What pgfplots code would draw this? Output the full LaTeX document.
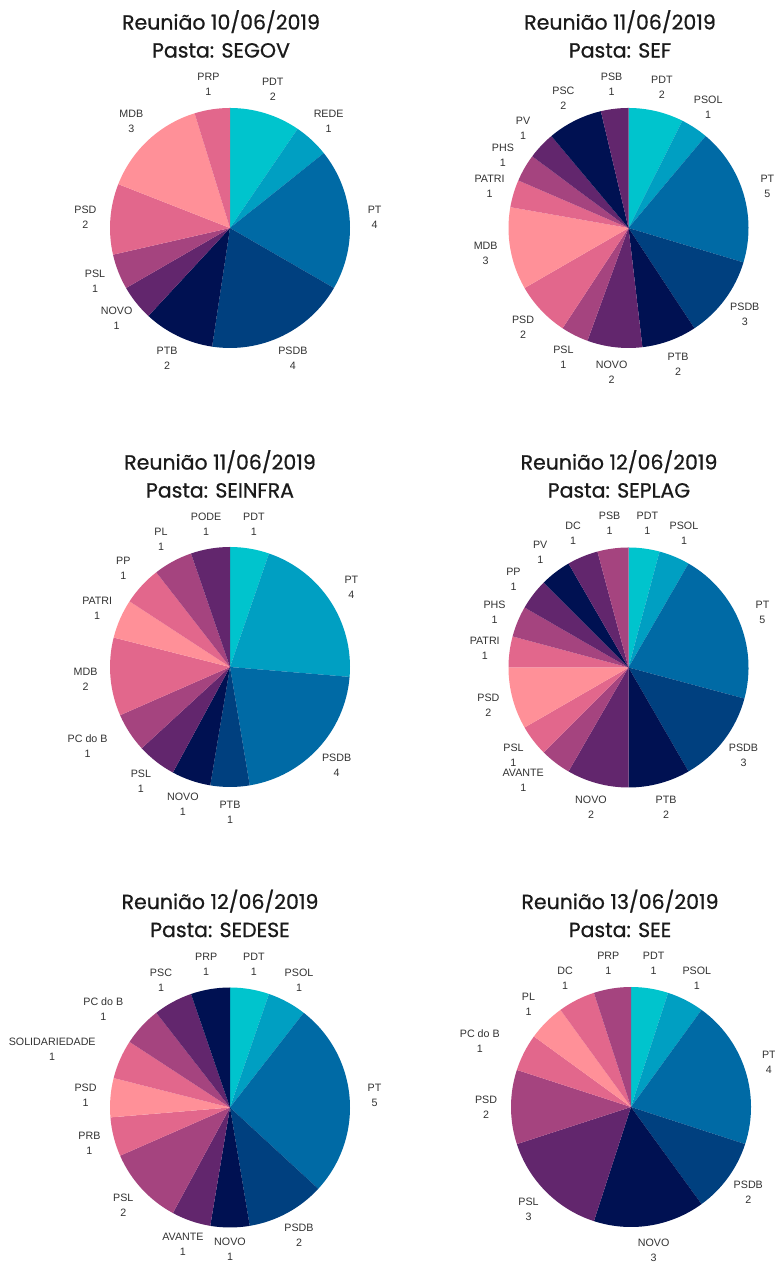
\documentclass[border=0pt]{standalone}
\usepackage{pgfplots}
\pgfplotsset{compat=1.18}
\usepackage{pgfplotstable}
\usepackage{fontspec}
\setmainfont{Liberation Sans}
\newfontfamily\titlefont{Poppins}[FakeBold=0.7]

\definecolor{c1}{HTML}{00C4CD}
\definecolor{c2}{HTML}{009FC2}
\definecolor{c3}{HTML}{006AA5}
\definecolor{c4}{HTML}{00407F}
\definecolor{c5}{HTML}{001152}
\definecolor{c6}{HTML}{62266D}
\definecolor{c7}{HTML}{A5447F}
\definecolor{c8}{HTML}{E2678C}
\definecolor{c9}{HTML}{FF9098}
\definecolor{lblgray}{HTML}{333333}
\definecolor{titlegray}{HTML}{1A1A1A}

\pgfplotstableread[col sep=comma]{
party,value,col,dx,dy
PDT,2,c1,0,0
REDE,1,c2,0,0
PT,4,c3,0,0
PSDB,4,c4,0,0
PTB,2,c5,0,0
NOVO,1,c6,0,0
PSL,1,c7,0,0
PSD,2,c8,0,0
MDB,3,c9,0,0
PRP,1,c8,0,0
}\segov

\pgfplotstableread[col sep=comma]{
party,value,col,dx,dy
PDT,2,c1,0,0
PSOL,1,c2,0,0
PT,5,c3,0,0
PSDB,3,c4,0,0
PTB,2,c5,0,0
NOVO,2,c6,0,0
PSL,1,c7,0,0
PSD,2,c8,0,0
MDB,3,c9,0,0
PATRI,1,c8,0,0
PHS,1,c7,0,0
PV,1,c6,0,0
PSC,2,c5,0,0
PSB,1,c6,0,0
}\sef

\pgfplotstableread[col sep=comma]{
party,value,col,dx,dy
PDT,1,c1,0,0
PT,4,c2,0,0
PSDB,4,c3,0,0
PTB,1,c4,0,0
NOVO,1,c5,0,0
PSL,1,c6,0,0
PC do B,1,c7,-21,0
MDB,2,c8,0,0
PATRI,1,c9,0,0
PP,1,c8,0,0
PL,1,c7,0,0
PODE,1,c6,0,0
}\seinfra

\pgfplotstableread[col sep=comma]{
party,value,col,dx,dy
PDT,1,c1,0,0
PSOL,1,c2,0,0
PT,5,c3,0,0
PSDB,3,c4,0,0
PTB,2,c5,0,0
NOVO,2,c6,0,0
AVANTE,1,c7,-17,2
PSL,1,c8,0,0
PSD,2,c9,0,0
PATRI,1,c8,0,0
PHS,1,c7,0,0
PP,1,c6,0,0
PV,1,c5,0,0
DC,1,c6,0,0
PSB,1,c7,0,0
}\seplag

\pgfplotstableread[col sep=comma]{
party,value,col,dx,dy
PDT,1,c1,0,0
PSOL,1,c2,0,0
PT,5,c3,0,0
PSDB,2,c4,0,0
NOVO,1,c5,0,3
AVANTE,1,c6,0,0
PSL,2,c7,0,0
PRB,1,c8,0,0
PSD,1,c9,0,0
SOLIDARIEDADE,1,c8,-45,0
PC do B,1,c7,-20,0
PSC,1,c6,0,0
PRP,1,c5,0,0
}\sedese

\pgfplotstableread[col sep=comma]{
party,value,col,dx,dy
PDT,1,c1,0,0
PSOL,1,c2,0,0
PT,4,c3,0,0
PSDB,2,c4,0,0
NOVO,3,c5,0,0
PSL,3,c6,0,0
PSD,2,c7,0,0
PC do B,1,c8,-22,0
PL,1,c9,0,0
DC,1,c8,0,0
PRP,1,c7,0,0
}\see

\tikzset{lbl/.style={font=\fontsize{10.7}{15}\selectfont, text=lblgray, align=center, inner sep=0pt},
ttl/.style={font=\titlefont\fontsize{20.5}{28}\selectfont, text=titlegray, align=center, inner sep=0pt}}

% #1 table, #2 cx, #3 cy
\newcommand\drawpie[3]{%
  \pgfplotstablegetrowsof{#1}%
  \pgfmathtruncatemacro\lastrow{\pgfplotsretval-1}%
  \def\total{0}%
  \pgfplotsforeachungrouped \i in {0,...,\lastrow}{%
    \pgfplotstablegetelem{\i}{value}\of{#1}%
    \pgfmathsetmacro\total{\total+\pgfplotsretval}%
  }%
  \def\cum{0}%
  \pgfplotsforeachungrouped \i in {0,...,\lastrow}{%
    \pgfplotstablegetelem{\i}{value}\of{#1}\let\val\pgfplotsretval
    \pgfplotstablegetelem{\i}{col}\of{#1}\let\colname\pgfplotsretval
    \pgfplotstablegetelem{\i}{party}\of{#1}\let\party\pgfplotsretval
    \pgfplotstablegetelem{\i}{dx}\of{#1}\let\ldx\pgfplotsretval
    \pgfplotstablegetelem{\i}{dy}\of{#1}\let\ldy\pgfplotsretval
    \pgfmathsetmacro\aone{90-360*\cum/\total}%
    \pgfmathsetmacro\cum{\cum+\val}%
    \pgfmathsetmacro\atwo{90-360*\cum/\total}%
    \pgfmathsetmacro\amid{(\aone+\atwo)/2}%
    \edef\cmd{\noexpand\addplot[fill=\colname, draw=none, forget plot] coordinates {(#2,#3)} -- ++(\aone:120pt) arc[start angle=\aone, end angle=\atwo, radius=120pt] -- cycle;}\cmd
    \edef\cmd{\noexpand\path (axis cs:#2,#3) ++(\amid:145pt) ++(\ldx pt,\ldy pt) node[lbl] {\party\noexpand\\\val};}\cmd
  }%
}

\begin{document}
\begin{tikzpicture}
\fill[white] (0,0) rectangle (774pt,1263pt);
\begin{axis}[x=1pt, y=1pt, xmin=0, xmax=774, ymin=0, ymax=1263,
  hide axis, clip=false, scale only axis, anchor=south west, at={(0,0)}]
\drawpie{\segov}{230}{1035}
\drawpie{\sef}{628.5}{1035}
\drawpie{\seinfra}{230}{596}
\drawpie{\seplag}{628.5}{595.5}
\drawpie{\sedese}{230}{155.5}
\drawpie{\see}{631}{156}
\node[ttl] at (axis cs:221,1229) {Reunião 10/06/2019\\Pasta: SEGOV};
\node[ttl] at (axis cs:620,1229) {Reunião 11/06/2019\\Pasta: SEF};
\node[ttl] at (axis cs:220,789) {Reunião 11/06/2019\\Pasta: SEINFRA};
\node[ttl] at (axis cs:619,789) {Reunião 12/06/2019\\Pasta: SEPLAG};
\node[ttl] at (axis cs:220,349.5) {Reunião 12/06/2019\\Pasta: SEDESE};
\node[ttl] at (axis cs:620,349.5) {Reunião 13/06/2019\\Pasta: SEE};
\end{axis}
\pgfresetboundingbox
\useasboundingbox (0,0) rectangle (774pt,1263pt);
\end{tikzpicture}
\end{document}
